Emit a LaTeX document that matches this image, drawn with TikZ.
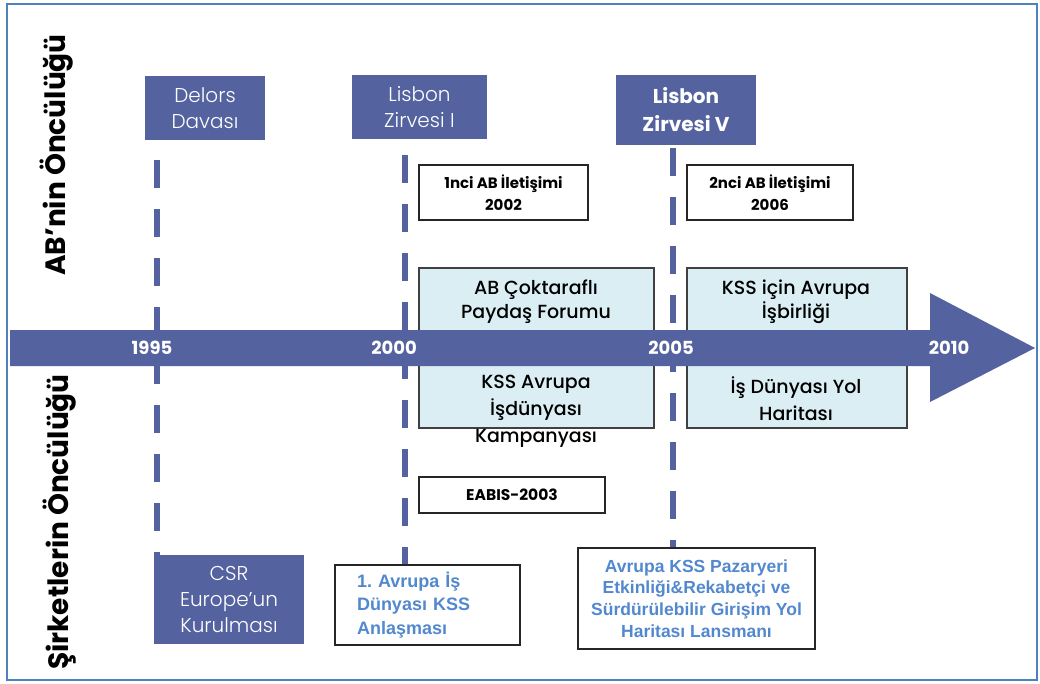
\documentclass[tikz,border=0pt]{standalone}
\usepackage{fontspec}
\setmainfont{Poppins}
\newfontfamily\lightfont{Poppins Light}
\newfontfamily\mediumfont{Poppins Medium}
\newfontfamily\arialfont{Liberation Sans}
\begin{document}
\begin{tikzpicture}[x=1pt,y=-1pt,
  darkbox/.style={fill=bandblue, text=white, align=center, inner sep=0pt},
  lightbox/.style={fill=paleblue, draw=black!75, line width=1.3pt, inner sep=0pt},
  whitebox/.style={fill=white, draw=black!85, line width=1.3pt, inner sep=0pt, align=center},
  yearline/.style={draw=bandblue, line width=5.5pt, dash pattern=on 28pt off 21pt},
  yearlabel/.style={text=white, font=\bfseries\fontsize{18}{18}\selectfont},
  sidelabel/.style={rotate=90, font=\bfseries\fontsize{28}{28}\selectfont},
  boxtext/.style={align=center, font=\mediumfont\fontsize{19}{24}\selectfont}]
\definecolor{bandblue}{RGB}{85,98,160}
\definecolor{paleblue}{RGB}{218,238,243}
\definecolor{linkblue}{RGB}{82,136,206}
\definecolor{framecol}{RGB}{79,129,189}
\useasboundingbox (0,0) rectangle (1040,684);
\fill[white] (0,0) rectangle (1040,684);
\draw[framecol, line width=2.5pt] (7,4) rectangle (1037,680);
\node[sidelabel] (euside) at (57,155) {AB'nin Öncülüğü};
\node[sidelabel] (firmside) at (60,522) {Şirketlerin Öncülüğü};
\node[darkbox, minimum width=120pt, minimum height=64pt, font=\lightfont\fontsize{20}{26}\selectfont] (delors) at (205,108) {Delors\\Davası};
\node[darkbox, minimum width=135pt, minimum height=64pt, font=\lightfont\fontsize{20}{26}\selectfont] (lisbon1) at (419.5,107) {Lisbon\\Zirvesi I};
\node[darkbox, minimum width=140pt, minimum height=70pt, font=\bfseries\fontsize{20}{28}\selectfont] (lisbon5) at (686,110) {Lisbon\\Zirvesi V};
\node[darkbox, minimum width=150pt, minimum height=89pt, font=\lightfont\fontsize{20}{26}\selectfont] (csr) at (229,599.5) {CSR\\Europe’un\\Kurulması};
\node[whitebox, minimum width=185pt, minimum height=80pt, inner xsep=22pt, text width=141pt, align=left, text=linkblue, font=\arialfont\bfseries\fontsize{18}{23.5}\selectfont] (pact) at (427.5,605) {1.\ Avrupa İş\\Dünyası KSS\\Anlaşması};
\node[whitebox, minimum width=237pt, minimum height=101pt, text=linkblue, font=\arialfont\bfseries\fontsize{17.5}{21.7}\selectfont] (market) at (696.5,598.5) {Avrupa KSS Pazaryeri\\Etkinliği\&Rekabetçi ve\\Sürdürülebilir Girişim Yol\\Haritası Lansmanı};
\coordinate (t1995) at (157,0);
\coordinate (t2000) at (405,0);
\coordinate (t2005) at (673,0);
\draw[yearline, shorten <=20pt] (t1995 |- delors.south) -- (t1995 |- csr.north);
\draw[yearline, shorten <=16pt] (t2000 |- lisbon1.south) -- (t2000 |- pact.north);
\draw[yearline, shorten <=3pt] (t2005 |- lisbon5.south) -- (t2005 |- market.north);
\node[whitebox, minimum width=169pt, minimum height=55pt, font=\bfseries\fontsize{15}{22}\selectfont] (comm1) at (503.5,192.5) {1nci AB İletişimi\\2002};
\node[whitebox, minimum width=166pt, minimum height=55pt, font=\bfseries\fontsize{15}{22}\selectfont] (comm2) at (770,192.5) {2nci AB İletişimi\\2006};
\node[whitebox, minimum width=186pt, minimum height=36pt, font=\bfseries\fontsize{15.5}{15.5}\selectfont] (eabis) at (512,495) {EABIS-2003};
\node[lightbox, minimum width=235pt, minimum height=160pt] (forum) at (536.5,348) {};
\node[lightbox, minimum width=220pt, minimum height=160pt] (alliance) at (797,348) {};
\node[boxtext] (forumup) at (536,302) {AB Çoktaraflı\\Paydaş Forumu};
\node[boxtext, font=\mediumfont\fontsize{19}{27}\selectfont] (forumdown) at (536,411) {KSS Avrupa\\İşdünyası\\Kampanyası};
\node[boxtext] (allianceup) at (796,301.5) {KSS için Avrupa\\İşbirliği};
\node[boxtext, font=\mediumfont\fontsize{19}{27}\selectfont] (alliancedown) at (796,398.5) {İş Dünyası Yol\\Haritası};
\fill[bandblue] (10,330) -- (930,330) -- (930,293) -- (1035,348) -- (930,402) -- (930,366) -- (10,366) -- cycle;
\foreach \yr/\xx in {1995/152,2000/394,2005/671,2010/949}
  \node[yearlabel] (y\yr) at (\xx,348) {\yr};
\end{tikzpicture}
\end{document}
